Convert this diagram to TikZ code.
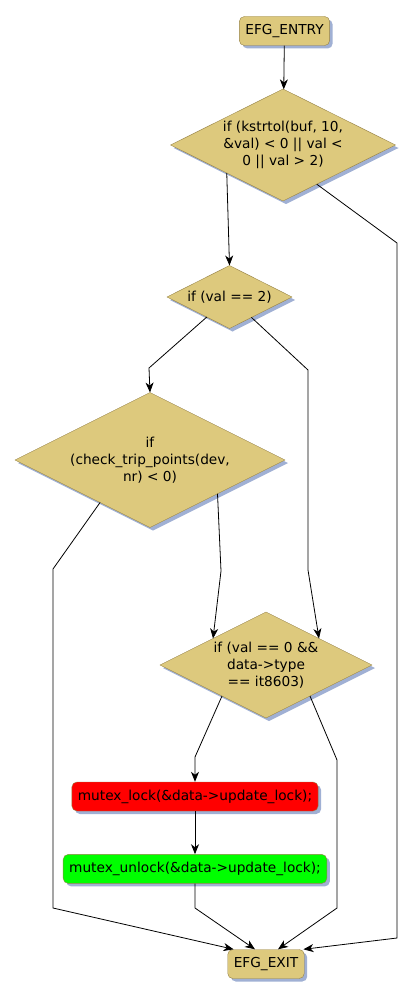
\documentclass[tikz,border=0pt]{standalone}
\usepackage{fontspec}
\setmainfont{DejaVu Sans}
\usepackage{tikz}
\usetikzlibrary{arrows.meta,positioning,shapes.geometric,shadows,calc}
\usepackage{xcolor}
\definecolor{EFGtan}{RGB}{221,201,125}
\definecolor{EFGline}{RGB}{150,130,70}
\definecolor{EFGshade}{RGB}{160,176,212}

\begin{document}
\begin{tikzpicture}[x=1pt, y=-1pt, every node/.style={font=\fontsize{13.7}{17}\selectfont}, efgshadow/.style={drop shadow={shadow xshift=3pt,shadow yshift=-3pt,fill=EFGshade,opacity=1}}, box/.style={draw=EFGline,fill=EFGtan,rounded corners=5pt,minimum height=29pt,inner xsep=6pt,efgshadow}, dec/.style={diamond,shape aspect=2,draw=EFGline,fill=EFGtan,inner sep=0pt,outer sep=0pt,align=center,efgshadow}, arr/.style={-{Stealth[length=10pt,width=8pt,inset=3pt]},line width=0.8pt}]
\useasboundingbox (0,0) rectangle (415,998);
\node[box] (entry) at (284.5,31) {EFG\_ENTRY};
\node[dec,minimum width=225pt,minimum height=112pt] (d1) at (283,145) {if (kstrtol(buf, 10,\\ \&val) < 0 || val <\\ 0 || val > 2)};
\node[dec,minimum width=125pt,minimum height=63pt] (d2) at (229.5,297) {if (val == 2)};
\node[dec,minimum width=270pt,minimum height=135pt] (d3) at (150,460) {if\\ (check\_trip\_points(dev,\\ nr) < 0)};
\node[dec,minimum width=212pt,minimum height=106pt] (d4) at (266,665) {if (val == 0 \&\&\\ data->type\\ == it8603)};
\node[box,fill=red] (lock) at (195,796.5) {mutex\_lock(\&data->update\_lock);};
\node[box,fill=green,below=43pt of lock] (unlock) {mutex\_unlock(\&data->update\_lock);};
\node[box] (exit) at (266,964) {EFG\_EXIT};
% branches
\draw[arr] (entry) -- (d1); \draw[arr] (d1.south west) -- (d2.north);
\draw[arr] ($(d1.south)!.3!(d1.east)$) -- (397,243) -- (397,938) -- ($(exit.north east)+(-1,0)$);
\draw[arr] (d2) -- (149,368) -- (d3.north); \draw[arr] (d2) -- (308,370) -- (308,570) -- (d4.north east);
\draw[arr] ($(d3.west)!.63!(d3.south)$) -- (53,569) -- (53,908) -- ($(exit.north west)+(6,0)$);
\draw[arr] (d3.south east) -- (221,571) -- (d4.north west);
\draw[arr] ($(d4.west)!.585!(d4.south)$) -- (195,757) -- (lock.north);
\draw[arr] ($(d4.south)!.415!(d4.east)$) -- (337,760) -- (337,908) -- ($(exit.north)+(12,0)$);
\draw[arr] (lock) -- (unlock); \draw[arr] (unlock) -- (195,908) -- ($(exit.north)+(-11,0)$);
\end{tikzpicture}
\end{document}
